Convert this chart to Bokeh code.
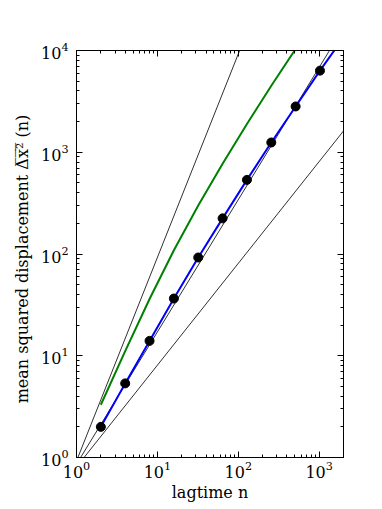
from bokeh.plotting import figure
from bokeh.models import Range1d, LogAxis, FixedTicker, CustomJSTickFormatter
from bokeh.embed import file_html
from bokeh.resources import INLINE

# data
lag_n = [2, 4, 8, 16, 32, 64, 128, 256, 512, 1024]
msd = [2.0, 5.35, 14.0, 36.5, 92.4, 224, 535, 1247, 2818, 6340]

fit_n = [2, 4, 8, 16, 32, 64, 128, 256, 512, 1024, 2048]
fit_msd = [2.0, 5.35, 14.0, 36.5, 92.4, 224, 535, 1247, 2818, 6340, 13800]

green_n = [2, 4, 8, 16, 32, 64, 128, 256, 512]
green_msd = [3.3, 11.1, 36.1, 109, 299, 771, 1897, 4508, 10350]

ballistic_n = [1.04, 104]
ballistic_msd = [1.0, 10000]
mid_n = [1.124, 1343]
mid_msd = [1.0, 10000]
diffusive_n = [1.24, 2000]
diffusive_msd = [1.0, 1620]

x_major = [1, 10, 100, 1000]
y_major = [1, 10, 100, 1000, 10000]

x_lo, x_hi = 1, 2000
y_lo, y_hi = 1, 10000


def minor_ticks(lo_exp, hi_exp):
    out = []
    for e in range(lo_exp, hi_exp):
        for m in range(2, 10):
            out.append(m * 10 ** e)
    return out


p = figure(
    x_axis_type="log", y_axis_type="log",
    x_range=Range1d(x_lo, x_hi), y_range=Range1d(y_lo, y_hi),
    frame_width=267, frame_height=407,
    min_border_left=76, min_border_top=50, min_border_right=20, min_border_bottom=30,
    output_backend="svg", toolbar_location=None,
)
p.grid.visible = False
p.outline_line_color = "black"
p.outline_line_width = 1
p.background_fill_color = "white"
p.border_fill_color = "white"

font = "DejaVu Serif"

xt = FixedTicker(ticks=x_major, minor_ticks=minor_ticks(0, 4))
yt = FixedTicker(ticks=y_major, minor_ticks=minor_ticks(0, 4))

for ax, tk in ((p.xaxis[0], xt), (p.yaxis[0], yt)):
    ax.ticker = tk
    ax.major_tick_in = 6
    ax.major_tick_out = 0
    ax.minor_tick_in = 3
    ax.minor_tick_out = 0
    ax.axis_line_color = "black"
    ax.major_label_text_font = font
    ax.major_label_text_font_size = "16px"
    ax.major_label_text_color = "black"
    ax.axis_label_text_font = font
    ax.axis_label_text_font_size = "16px"
    ax.axis_label_text_font_style = "normal"
    ax.axis_label_text_color = "black"

p.xaxis[0].axis_label = "lagtime n"
p.xaxis[0].major_label_standoff = 3
p.xaxis[0].axis_label_standoff = 2
p.yaxis[0].axis_label = "mean squared displacement  \u0394\u0305x\u0305\u00b2\u0305  (n)"
p.yaxis[0].major_label_standoff = 8
p.yaxis[0].axis_label_standoff = 6

blank = CustomJSTickFormatter(code="return ''")
for loc, tk in (("above", xt), ("right", yt)):
    ax = LogAxis(ticker=tk, formatter=blank)
    ax.major_tick_in = 6
    ax.major_tick_out = 0
    ax.minor_tick_in = 3
    ax.minor_tick_out = 0
    ax.major_label_standoff = 0
    ax.axis_line_color = "black"
    p.add_layout(ax, loc)

line_c = "#303030"
p.line(ballistic_n, ballistic_msd, line_color=line_c, line_width=1)
p.line(mid_n, mid_msd, line_color=line_c, line_width=1)
p.line(diffusive_n, diffusive_msd, line_color=line_c, line_width=1)
p.line(green_n, green_msd, line_color="#008000", line_width=2)
p.line(fit_n, fit_msd, line_color="#0000ff", line_width=2)
p.scatter(lag_n, msd, size=9, fill_color="black", line_color="black")

open("out.html", "w").write(file_html(p, INLINE))
